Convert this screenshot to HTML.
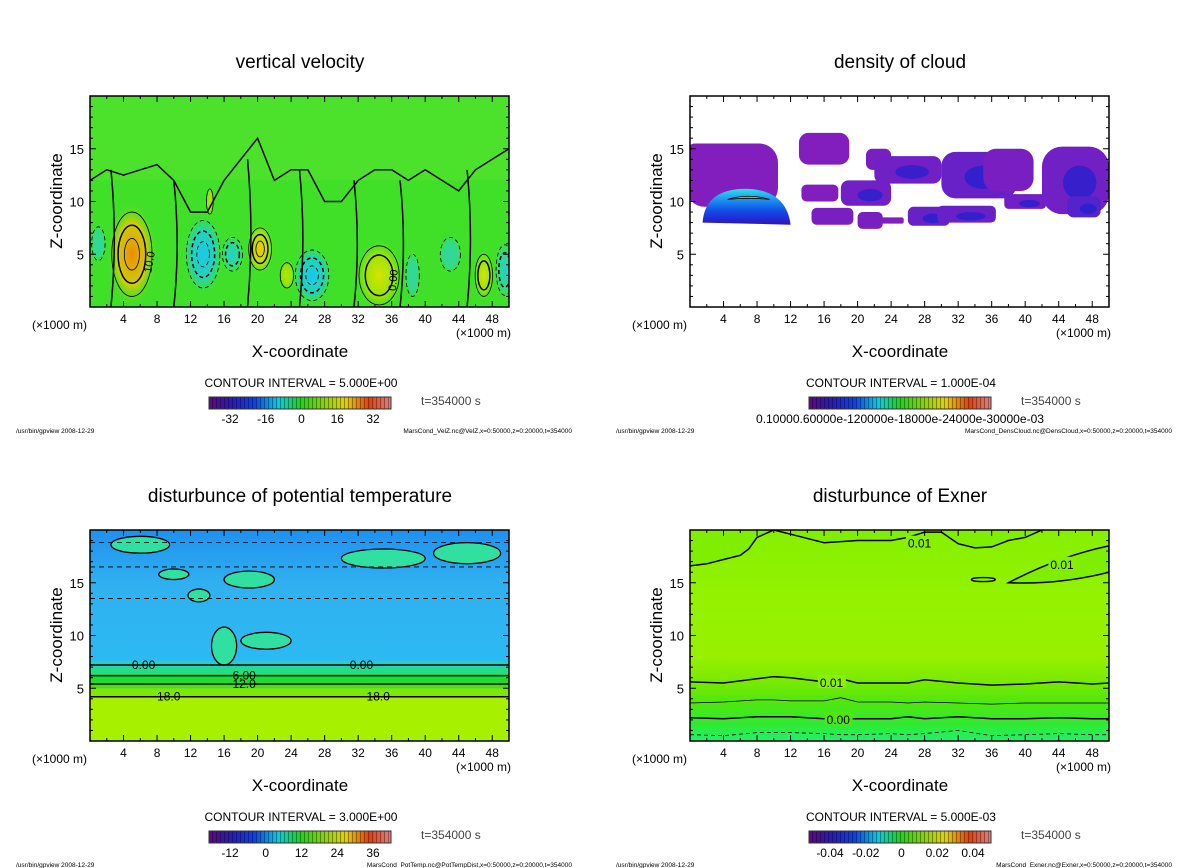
<!DOCTYPE html>
<html><head><meta charset="utf-8"><style>
html,body{margin:0;padding:0;background:#fff;}
svg{display:block;font-family:"Liberation Sans","DejaVu Sans",sans-serif;}
</style></head><body>
<svg id="fig" width="1200" height="868" viewBox="0 0 1200 868" xmlns="http://www.w3.org/2000/svg">
<defs>
<linearGradient id="rainbow" x1="0" x2="1" y1="0" y2="0">
<stop offset="0" stop-color="#5a0a7a"/><stop offset="0.12" stop-color="#2a1ab0"/><stop offset="0.25" stop-color="#1040e0"/>
<stop offset="0.38" stop-color="#10c8e0"/><stop offset="0.5" stop-color="#20d020"/><stop offset="0.62" stop-color="#80d010"/>
<stop offset="0.75" stop-color="#e0d010"/><stop offset="0.88" stop-color="#e04010"/><stop offset="1" stop-color="#e08080"/>
</linearGradient>
<pattern id="stripes" width="4" height="10" patternUnits="userSpaceOnUse"><rect x="0" y="0" width="1" height="10" fill="rgba(0,0,0,0.35)"/></pattern>
<linearGradient id="cloudcore" x1="0" x2="0" y1="0" y2="1">
<stop offset="0" stop-color="#30e0e0"/><stop offset="0.25" stop-color="#20a0f0"/><stop offset="0.6" stop-color="#1050e8"/><stop offset="1" stop-color="#3010c0"/>
</linearGradient>
<linearGradient id="p4bg" x1="0" x2="0" y1="0" y2="1">
<stop offset="0" stop-color="#86f000"/><stop offset="0.35" stop-color="#94f200"/><stop offset="0.6" stop-color="#98f000"/>
<stop offset="0.72" stop-color="#78ea00"/><stop offset="0.82" stop-color="#50e610"/><stop offset="0.92" stop-color="#30ea30"/><stop offset="1" stop-color="#20f070"/>
</linearGradient>
<linearGradient id="p3top" x1="0" x2="0" y1="0" y2="1">
<stop offset="0" stop-color="#1e90f0"/><stop offset="0.25" stop-color="#30b0f0"/><stop offset="1" stop-color="#28c4f4"/>
</linearGradient>
</defs>
</svg>
<script>
// ---------- data ----------
const xTickLabels = [4,8,12,16,20,24,28,32,36,40,44,48];
const zTickLabels = [5,10,15];
const xMax = 50, zMax = 20;
const titles = ["vertical velocity","density of cloud","disturbunce of potential temperature","disturbunce of Exner"];
const intervals = ["CONTOUR INTERVAL = 5.000E+00","CONTOUR INTERVAL = 1.000E-04","CONTOUR INTERVAL = 3.000E+00","CONTOUR INTERVAL = 5.000E-03"];
const cbarLabels1 = ["-32","-16","0","16","32"];
const cbarValues1 = [-32,-16,0,16,32];
const cbarLabels3 = ["-12","0","12","24","36"];
const cbarValues3 = [-12,0,12,24,36];
const cbarLabels4 = ["-0.04","-0.02","0","0.02","0.04"];
const cbarValues4 = [-0.04,-0.02,0,0.02,0.04];
const footers = ["MarsCond_VelZ.nc@VelZ,x=0:50000,z=0:20000,t=354000","MarsCond_DensCloud.nc@DensCloud,x=0:50000,z=0:20000,t=354000","MarsCond_PotTemp.nc@PotTempDist,x=0:50000,z=0:20000,t=354000","MarsCond_Exner.nc@Exner,x=0:50000,z=0:20000,t=354000"];
// panel1 blobs: x(km), z(km), rx, rz, value
const velX = [5,20.3,34.5,23.5,47,14.3,13.5,17,26.5,49.5,1,38.5,43];
const velZ = [5,5.5,3,3,3,10,5,5,3,3.5,6,3,5];
const velRx = [3,1.7,3,1,1.3,0.5,2.5,1.5,2.5,1.3,1,1,1.5];
const velRz = [5,2.5,3.5,1.5,2.5,1.5,4,2,3,3,2,2.5,2];
const velV = [30,15,12,6,12,6,-15,-8,-15,-10,-5,-6,-5];
const velZeroX = [0,2,4,6,8,10,12,14,16,18,20,22,24,26,28,30,32,34,36,38,40,42,44,46,48,50];
const velZeroZ = [12,13,12.5,13,13.5,12,9,9,12,14,16,12,13,13,10,10,12,13,13,12,13,12,11,13,14,15];
const velVertX = [2.5,10,18.8,25,31.5,37,45];
// panel2 clouds: x, z, rx, rz, shade
const cloudX = [5,2,16,15.5,17,21,22.5,26,28.5,24,34.5,33,38,46,47,40,21.5];
const cloudZ = [12.5,14,15,10.8,8.6,10.8,14,13,8.6,8.2,12.5,8.8,13,12,9.5,10,8.2];
const cloudRx = [5.5,2.5,3,2.2,2.5,3,1.5,4,2.5,1.5,4.5,3.5,3,4,2,2.5,1.5];
const cloudRz = [3,1.5,1.5,0.8,0.8,1.2,1,1.3,0.9,0.3,2.2,0.8,2,3.2,1,0.7,0.8];
const cloudShade = [0,0,0,0,0.1,0.2,0.1,0.2,0.3,0,0.3,0.3,0.1,0.2,0.5,0.2,0.1];
// panel3 bands (bottom z, color), contour levels heights
const ptBandZ = [0,4.2,5.0,5.5,6.2,7.0];
const ptBandC = ["#a6f000","#7ee800","#48e010","#20dc30","#20e080","#28d0c0"];
const ptLineZ = [7.2,6.2,5.4,4.2];
const ptLineLab = ["0.00","6.00","12.0","18.0"];
const ptIslandX = [6,10,13,19,35,45,21,16];
const ptIslandZ = [18.6,15.8,13.8,15.3,17.3,17.8,9.5,9];
const ptIslandRx = [3.5,1.8,1.3,3,5,4,3,1.5];
const ptIslandRz = [0.8,0.5,0.6,0.8,0.9,1,0.8,1.8];
// panel4 contour lines z at xs
const exX = [0,4,8,10,12,16,18,20,24,26,28,32,36,40,44,48,50];
const exL1 = [5.6,5.5,5.9,6.1,6.0,5.6,5.9,5.5,5.5,5.5,5.8,5.5,5.3,5.4,5.6,5.4,5.5];
const exL2 = [3.6,3.7,3.9,3.9,3.8,3.8,4.1,3.7,3.7,3.6,3.7,3.6,3.5,3.6,3.6,3.6,3.6];
const exL3 = [2.2,2.1,2.3,2.3,2.3,2.1,2.1,2.1,2.1,2.3,2.1,2.3,2.1,2.1,2.2,2.1,2.1];
const exL4 = [0.6,0.5,0.8,0.8,0.8,0.7,0.6,0.6,0.7,0.6,0.7,1.0,0.5,0.6,0.7,0.6,0.6];
const exTopX = [0,2,4,6,7,8,10,12,16,20,24,26,28,30,32,34,36,38,40,42,44,46,48,50];
const exTopZ = [16.6,16.8,17.2,17.6,18.2,19.3,20,19.6,18.8,19.0,19.0,19.3,19.8,19.8,18.7,18.3,18.4,19.0,19.3,20,20.5,21,21,21];

// ---------- helpers ----------
const NS = "http://www.w3.org/2000/svg";
const svg = document.getElementById("fig");
function el(tag, attrs, parent){ const e=document.createElementNS(NS,tag); for(const k in attrs) e.setAttribute(k,attrs[k]); (parent||svg).appendChild(e); return e; }
function txt(s, attrs, parent){ const e=el("text",attrs,parent); e.textContent=s; return e; }
const PW = 419, PH = 211;
function panelScales(ox, oy){
  const x0 = 90+ox, y0 = 96+oy;
  return { x0, y0, X: v => x0 + v*PW/xMax, Z: v => y0 + PH - v*PH/zMax };
}
function velColor(v){
  if (v>=25) return "#f08a00"; if (v>=15) return "#f0c800"; if (v>=8) return "#d8e400"; if (v>0) return "#b0e400";
  if (v<=-12) return "#18c8f0"; if (v<=-7) return "#20d0d0"; return "#30d8a0";
}
function linePath(S, xs, zs){ return xs.map((x,i)=>(i?"L":"M")+S.X(x).toFixed(1)+","+S.Z(zs[i]).toFixed(1)).join(" "); }

function frame(idx, ox, oy, content){
  const S = panelScales(ox, oy);
  const g = el("g",{});
  
  
  const t = txt(titles[idx],{x:300+ox,y:68+oy,"text-anchor":"middle","font-size":19,fill:"#000"},g);
  
  
  const clipId = "clip"+idx;
  const cp = el("clipPath",{id:clipId},g); el("rect",{x:S.x0,y:S.y0,width:PW,height:PH},cp);
  const plot = el("g",{"clip-path":"url(#"+clipId+")"},g);
  
  
  content(plot, S);
  const tk = el("g",{stroke:"#000","stroke-width":1},g);
  for(let x=2;x<xMax;x+=2){ const L = (x%4===0)?6:3;
    el("line",{x1:S.X(x),x2:S.X(x),y1:S.y0+PH,y2:S.y0+PH-L},tk);
    el("line",{x1:S.X(x),x2:S.X(x),y1:S.y0,y2:S.y0+L},tk); }
  for(let z=1;z<zMax;z++){ const L=(z%5===0)?6:3;
    el("line",{x1:S.x0,x2:S.x0+L,y1:S.Z(z),y2:S.Z(z)},tk);
    el("line",{x1:S.x0+PW,x2:S.x0+PW-L,y1:S.Z(z),y2:S.Z(z)},tk); }
  const border = el("rect",{x:S.x0,y:S.y0,width:PW,height:PH,fill:"none",stroke:"#000","stroke-width":1.5},g);
  
  
  xTickLabels.forEach(v=>{ const e=txt(String(v),{x:S.X(v),y:S.y0+PH+16,"text-anchor":"middle","font-size":12},g);
    
     });
  zTickLabels.forEach(v=>{ const e=txt(String(v),{x:S.x0-6,y:S.Z(v)+5,"text-anchor":"end","font-size":13},g);
    
     });
  const u1=txt("(×1000 m)",{x:32+ox,y:329+oy,"font-size":12},g);
  
  
  const u2=txt("(×1000 m)",{x:456+ox,y:337+oy,"font-size":12},g);
  
  
  const xt=txt("X-coordinate",{x:300+ox,y:357+oy,"text-anchor":"middle","font-size":17},g);
  
  
  const yt=txt("Z-coordinate",{x:0,y:0,"text-anchor":"middle","font-size":17,transform:"translate("+(62+ox)+","+(201+oy)+") rotate(-90)"},g);
  
  
  const ci=txt(intervals[idx],{x:301+ox,y:387+oy,"text-anchor":"middle","font-size":12},g);
  
  
  const cb=el("g",{},g);
  
  
  el("rect",{x:209+ox,y:397+oy,width:182,height:12,fill:"url(#rainbow)"},cb);
  el("rect",{x:209+ox,y:397+oy,width:182,height:12,fill:"url(#stripes)"},cb);
  el("rect",{x:209+ox,y:397+oy,width:182,height:12,fill:"none",stroke:"#333","stroke-width":1},cb);
  const tt=txt("t=354000 s",{x:421+ox,y:405+oy,"font-size":12,fill:"#444"},g);
  
  
  const f1=txt("/usr/bin/gpview  2008-12-29",{x:16+ox,y:433+oy,"font-size":6.5},g);
  
  
  const f2=txt(footers[idx],{x:572+ox,y:433+oy,"font-size":6.5,"text-anchor":"end"},g);
  
  
  return {g, cb, ox, oy};
}
function cbarTicks(P, labels, values){
  const lo=values[0], hi=values[values.length-1];
  const cx = v => 230+P.ox + (v-lo)/(hi-lo)*(373-230);
  labels.forEach((s,i)=>{ const e=txt(s,{x:cx(values[i]),y:423+P.oy,"text-anchor":"middle","font-size":12},P.cb);
    
     });
}

// ---------- panel 1 ----------
const P1 = frame(0,0,0,(g,S)=>{
  el("rect",{x:S.x0,y:S.y0,width:PW,height:PH,fill:"#40e028"},g);
  el("rect",{x:S.x0,y:S.y0,width:PW,height:PH*0.4,fill:"#58e430",opacity:0.5},g);
  velX.forEach((x,i)=>{
    const gid="vb"+i; const rg=el("radialGradient",{id:gid},g);
    el("stop",{offset:"0","stop-color":velColor(velV[i])},rg);
    el("stop",{offset:"0.6","stop-color":velColor(velV[i]*0.6),"stop-opacity":"0.8"},rg);
    el("stop",{offset:"1","stop-color":"#40e028","stop-opacity":"0"},rg);
    const e=el("ellipse",{cx:S.X(x),cy:S.Z(velZ[i]),rx:velRx[i]*PW/xMax,ry:velRz[i]*PH/zMax,fill:"url(#"+gid+")"},g);
    
    
    [0.8,0.55,0.3].forEach((f,k)=>{ if(Math.abs(velV[i])*f<4) return;
      el("ellipse",{cx:S.X(x),cy:S.Z(velZ[i]),rx:velRx[i]*PW/xMax*f,ry:velRz[i]*PH/zMax*f,fill:"none",stroke:"#000","stroke-width":k===1?1.5:0.8,"stroke-dasharray":velV[i]<0?"4,3":"none"},g); });
  });
  const zl=el("path",{d:linePath(S,velZeroX,velZeroZ),fill:"none",stroke:"#000","stroke-width":1.5},g);
  
  
  velVertX.forEach(x=>{
    const zt = velZeroZ[Math.round(x/2)];
    el("path",{d:"M"+S.X(x)+","+S.Z(zt)+" Q"+S.X(x+0.8)+","+S.Z(zt/2)+" "+S.X(x)+","+S.Z(0),fill:"none",stroke:"#000","stroke-width":1.5},g);
  });
  txt("10.0",{x:0,y:0,"font-size":11,transform:"translate("+S.X(7.3)+","+S.Z(3.2)+") rotate(-80)"},g);
  txt("0.00",{x:0,y:0,"font-size":11,transform:"translate("+S.X(36.5)+","+S.Z(1.5)+") rotate(-85)"},g);
});
cbarTicks(P1, cbarLabels1, cbarValues1);

// ---------- panel 2 ----------
const P2 = frame(1,600,0,(g,S)=>{
  el("rect",{x:S.x0,y:S.y0,width:PW,height:PH,fill:"#fff"},g);
  cloudX.forEach((x,i)=>{
    const sh=cloudShade[i];
    const col = "rgb("+Math.round(130-90*sh)+","+Math.round(30+10*sh)+","+Math.round(190+30*sh)+")";
    const rx=cloudRx[i]*PW/xMax, ry=cloudRz[i]*PH/zMax;
    const e=el("rect",{x:S.X(x)-rx,y:S.Z(cloudZ[i])-ry,width:2*rx,height:2*ry,rx:Math.min(rx,ry)*0.6,fill:col},g);
    
    
    if(sh>0.15) el("ellipse",{cx:S.X(x+0.5),cy:S.Z(cloudZ[i]-0.2),rx:rx*0.5,ry:ry*0.5,fill:"#2020d0",opacity:0.7},g);
  });
  const core=el("path",{d:"M"+S.X(1.5)+","+S.Z(8)+" Q"+S.X(1.8)+","+S.Z(11.3)+" "+S.X(7)+","+S.Z(11.2)+" Q"+S.X(11.5)+","+S.Z(11)+" "+S.X(12)+","+S.Z(7.8)+" Z",fill:"url(#cloudcore)"},g);
  
  
  el("path",{d:"M"+S.X(4.5)+","+S.Z(10.2)+" Q"+S.X(7)+","+S.Z(10.8)+" "+S.X(9.5)+","+S.Z(10.2)+" Q"+S.X(7)+","+S.Z(10.4)+" "+S.X(4.5)+","+S.Z(10.2)+"Z",fill:"#30e0a0",stroke:"#000","stroke-width":0.8},g);
});
{ const e=txt("0.10000.60000e-120000e-18000e-24000e-30000e-03",{x:900,y:423,"text-anchor":"middle","font-size":12,textLength:288,lengthAdjust:"spacingAndGlyphs"},P2.cb);
  
   }

// ---------- panel 3 ----------
const P3 = frame(2,0,434,(g,S)=>{
  el("rect",{x:S.x0,y:S.y0,width:PW,height:PH,fill:"url(#p3top)"},g);
  ptBandZ.forEach((z,i)=>{
    const zt = i<ptBandZ.length-1 ? ptBandZ[i+1] : z+0.6;
    const r=el("rect",{x:S.x0,y:S.Z(zt),width:PW,height:S.Z(z)-S.Z(zt),fill:ptBandC[i]},g);
    
    
  });
  ptIslandX.forEach((x,i)=>{
    const e=el("ellipse",{cx:S.X(x),cy:S.Z(ptIslandZ[i]),rx:ptIslandRx[i]*PW/xMax,ry:ptIslandRz[i]*PH/zMax,fill:"#30e0a0",stroke:"#000","stroke-width":1.3},g);
    
    
  });
  [16.5,13.5,18.8].forEach(z=>el("line",{x1:S.x0,x2:S.x0+PW,y1:S.Z(z),y2:S.Z(z),stroke:"#000","stroke-width":0.8,"stroke-dasharray":"5,4"},g));
  ptLineZ.forEach((z,i)=>{
    const l=el("line",{x1:S.x0,x2:S.x0+PW,y1:S.Z(z),y2:S.Z(z),stroke:"#000","stroke-width":1.5},g);
    
    
    txt(ptLineLab[i],{x:S.X(i===0?5:(i===3?8:17)),y:S.Z(z)+4,"font-size":12},g);
  });
  txt("0.00",{x:S.X(31),y:S.Z(7.2)+4,"font-size":12},g);
  txt("18.0",{x:S.X(33),y:S.Z(4.2)+4,"font-size":12},g);
});
cbarTicks(P3, cbarLabels3, cbarValues3);

// ---------- panel 4 ----------
const P4 = frame(3,600,434,(g,S)=>{
  el("rect",{x:S.x0,y:S.y0,width:PW,height:PH,fill:"url(#p4bg)"},g);
  el("path",{d:linePath(S,exTopX,exTopZ)+" L"+S.X(50)+","+S.Z(21)+" L"+S.X(0)+","+S.Z(21)+"Z",fill:"#80ee00"},g);
  const top=el("path",{d:linePath(S,exTopX,exTopZ),fill:"none",stroke:"#000","stroke-width":1.5},g);
  
  
  el("path",{d:"M"+S.X(38)+","+S.Z(15)+" Q"+S.X(44)+","+S.Z(17.5)+" "+S.X(50)+","+S.Z(18.5)+" L"+S.X(50)+","+S.Z(16)+" Q"+S.X(44)+","+S.Z(14.8)+" "+S.X(38)+","+S.Z(15)+"Z",fill:"#80ee00",stroke:"#000","stroke-width":1.5},g);
  el("ellipse",{cx:S.X(35),cy:S.Z(15.3),rx:12,ry:2,fill:"none",stroke:"#000","stroke-width":1.3},g);
  [[exL1,1.5,"none"],[exL2,0.8,"none"],[exL3,1.5,"none"],[exL4,0.8,"4,3"]].forEach(([zs,w,d])=>{
    const p=el("path",{d:linePath(S,exX,zs),fill:"none",stroke:"#000","stroke-width":w,"stroke-dasharray":d},g);
    
    
  });
  [["0.01",26,18.8],["0.01",43,16.8],["0.01",15.5,5.6],["0.00",16.3,2.1]].forEach(([s,x,z])=>{
    el("rect",{x:S.X(x)-2,y:S.Z(z)-7,width:28,height:13,fill:z>10?"#86f000":(z>4?"#8cf000":"#50e610")},g);
    txt(s,{x:S.X(x),y:S.Z(z)+5,"font-size":12},g);
  });
});
cbarTicks(P4, cbarLabels4, cbarValues4);
</script>
</body></html>
